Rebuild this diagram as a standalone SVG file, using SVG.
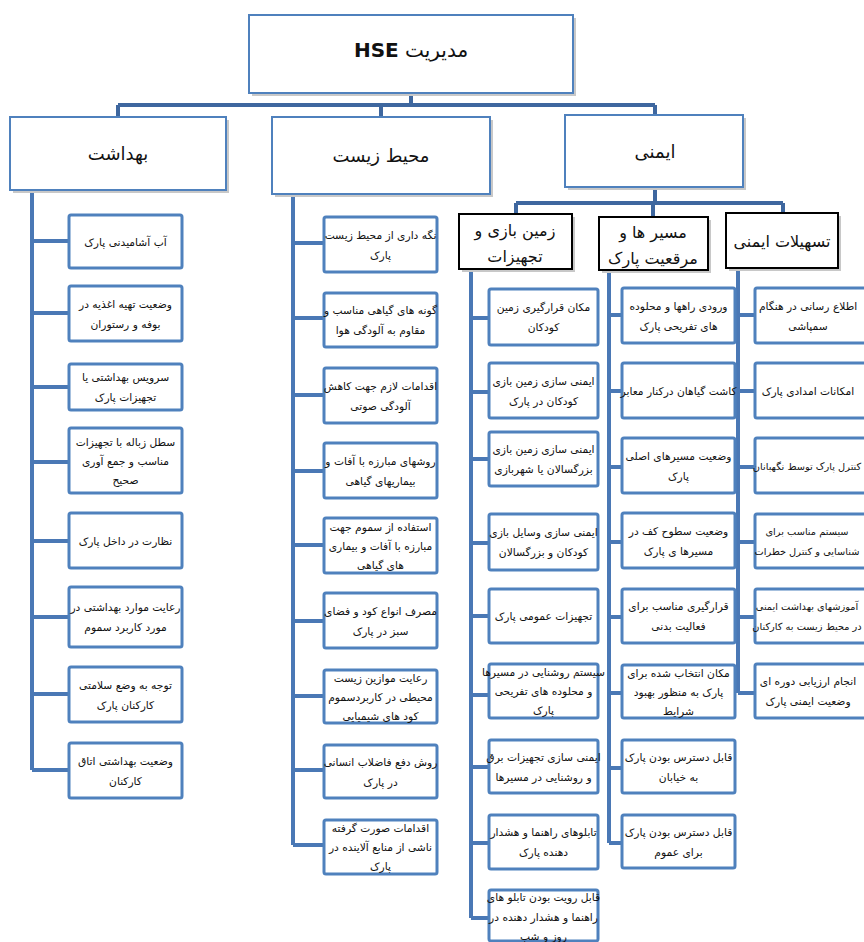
<svg xmlns="http://www.w3.org/2000/svg" width="864" height="942" viewBox="0 0 864 942">
<style>
.bg{fill:#ffffff}
.box{fill:#ffffff;stroke:#4f81bd;stroke-width:3}
.hbox{fill:#ffffff;stroke:#4f81bd;stroke-width:2}
.sbox{fill:#ffffff;stroke:#000000;stroke-width:2}
.shadow{fill:#c8c8c8}
.conn{fill:none;stroke:#4a78b5;stroke-width:4}
.top{fill:none;stroke:#3e679f;stroke-width:4}
text{font-family:"DejaVu Sans",sans-serif;fill:#111111;direction:rtl;text-anchor:middle}
.t{font-size:10.7px}
.ts{font-size:9.8px}
.h1{font-size:20px}
.h2{font-size:18px}
.h3{font-size:16px}
</style>
<rect class="bg" x="0" y="0" width="864" height="942"/>
<g id="connectors">
<path class="top" d="M411 93V105M118 105H655M118 105V117M381 105V117M655 105V115"/>
<path class="top" d="M655 187V203M516 203H783M516 203V214M653 203V217M783 203V213"/>
<path class="conn" d="M32 191V770M32 241H69M32 313H69M32 387H69M32 462H69M32 541H69M32 617H69M32 694H69M32 770H69"/>
<path class="conn" d="M293 195V845M293 243H324M293 318H324M293 395H324M293 471H324M293 545H324M293 621H324M293 696H324M293 770H324M293 845H324"/>
<path class="conn" d="M471 269V918M471 318H489M471 392H489M471 459H489M471 543H489M471 616H489M471 695H489M471 767H489M471 843H489M471 918H489"/>
<path class="conn" d="M609 270V843M609 315H622M609 391H622M609 467H622M609 542H622M609 617H622M609 693H622M609 768H622M609 843H622"/>
<path class="conn" d="M738 268V693M738 315H755M738 391H755M738 467H755M738 542H755M738 617H755M738 693H755"/>
</g>
<g id="root">
<rect class="shadow" x="252" y="18" width="324" height="78"/>
<rect class="hbox" x="249" y="15" width="324" height="78"/>
<text class="h1" x="411" y="57">مدیریت <tspan font-weight="bold">HSE</tspan></text>
</g>
<g id="behdasht">
<rect class="shadow" x="13" y="120" width="216" height="73"/>
<rect class="hbox" x="10" y="117" width="216" height="73"/>
<text class="h2" x="118" y="160">بهداشت</text>
</g>
<g id="mohit">
<rect class="shadow" x="275" y="120" width="218" height="77"/>
<rect class="hbox" x="272" y="117" width="218" height="77"/>
<text class="h2" x="381" y="162">محیط زیست</text>
</g>
<g id="imeni">
<rect class="shadow" x="568" y="118" width="178" height="72"/>
<rect class="hbox" x="565" y="115" width="178" height="72"/>
<text class="h2" x="655" y="158">ایمنی</text>
</g>
<g id="zamin">
<rect class="shadow" x="462" y="217" width="113" height="55"/>
<rect class="sbox" x="459" y="214" width="113" height="55"/>
<text class="h3" x="515" y="236">زمین بازی و</text>
<text class="h3" x="515" y="262">تجهیزات</text>
</g>
<g id="masir">
<rect class="shadow" x="602" y="220" width="109" height="53"/>
<rect class="sbox" x="599" y="217" width="109" height="53"/>
<text class="h3" x="653" y="238">مسیر ها و</text>
<text class="h3" x="653" y="264">مرقعیت پارک</text>
</g>
<g id="tashilat">
<rect class="shadow" x="729" y="216" width="112" height="55"/>
<rect class="sbox" x="726" y="213" width="112" height="55"/>
<text class="h3" x="782" y="247">تسهیلات ایمنی</text>
</g>
<g id="b1"><rect class="box" x="69" y="215" width="113" height="53" rx="2"/><text class="t" x="125.5" y="245.5">آب آشامیدنی پارک</text></g>
<g id="b2"><rect class="box" x="69" y="286" width="113" height="55" rx="2"/><text class="t" x="125.5" y="307.5">وضعیت تهیه اغذیه در</text><text class="t" x="125.5" y="327.5">بوفه و رستوران</text></g>
<g id="b3"><rect class="box" x="69" y="364" width="113" height="46" rx="2"/><text class="t" x="125.5" y="381">سرویس بهداشتی یا</text><text class="t" x="125.5" y="401">تجهیزات پارک</text></g>
<g id="b4"><rect class="box" x="69" y="428" width="113" height="65" rx="2"/><text class="t" x="125.5" y="445.5">سطل زباله با تجهیزات</text><text class="t" x="125.5" y="464.5">مناسب و جمع آوری</text><text class="t" x="125.5" y="483.5">صحیح</text></g>
<g id="b5"><rect class="box" x="69" y="513" width="113" height="55" rx="2"/><text class="t" x="125.5" y="544.5">نظارت در داخل پارک</text></g>
<g id="b6"><rect class="box" x="69" y="587" width="113" height="60" rx="2"/><text class="t" x="125.5" y="611">رعایت موارد بهداشتی در</text><text class="t" x="125.5" y="631">مورد کاربرد سموم</text></g>
<g id="b7"><rect class="box" x="69" y="667" width="113" height="55" rx="2"/><text class="t" x="125.5" y="688.5">توجه به وضع سلامتی</text><text class="t" x="125.5" y="708.5">کارکنان پارک</text></g>
<g id="b8"><rect class="box" x="69" y="743" width="113" height="55" rx="2"/><text class="t" x="125.5" y="764.5">وضعیت بهداشتی اتاق</text><text class="t" x="125.5" y="784.5">کارکنان</text></g>
<g id="m1"><rect class="box" x="324" y="217" width="113" height="55" rx="2"/><text class="t" x="380.5" y="238.5">نگه داری از محیط زیست</text><text class="t" x="380.5" y="258.5">پارک</text></g>
<g id="m2"><rect class="box" x="324" y="293" width="113" height="54" rx="2"/><text class="t" x="380.5" y="314">گونه های گیاهی مناسب و</text><text class="t" x="380.5" y="334">مقاوم به آلودگی هوا</text></g>
<g id="m3"><rect class="box" x="324" y="368" width="113" height="55" rx="2"/><text class="t" x="380.5" y="389.5">اقدامات لازم جهت کاهش</text><text class="t" x="380.5" y="409.5">آلودگی صوتی</text></g>
<g id="m4"><rect class="box" x="324" y="443" width="113" height="55" rx="2"/><text class="t" x="380.5" y="464.5">روشهای مبارزه با آفات و</text><text class="t" x="380.5" y="484.5">بیماریهای گیاهی</text></g>
<g id="m5"><rect class="box" x="324" y="518" width="113" height="55" rx="2"/><text class="t" x="380.5" y="530.5">استفاده از سموم جهت</text><text class="t" x="380.5" y="549.5">مبارزه با آفات و بیماری</text><text class="t" x="380.5" y="568.5">های گیاهی</text></g>
<g id="m6"><rect class="box" x="324" y="593" width="113" height="55" rx="2"/><text class="t" x="380.5" y="614.5">مصرف انواع کود و فضای</text><text class="t" x="380.5" y="634.5">سبز در پارک</text></g>
<g id="m7"><rect class="box" x="324" y="670" width="113" height="53" rx="2"/><text class="t" x="380.5" y="681.5">رعایت موازین زیست</text><text class="t" x="380.5" y="700.5">محیطی در کاربردسموم</text><text class="t" x="380.5" y="719.5">کود های شیمیایی</text></g>
<g id="m8"><rect class="box" x="324" y="745" width="113" height="53" rx="2"/><text class="t" x="380.5" y="765.5">روش دفع فاضلاب انسانی</text><text class="t" x="380.5" y="785.5">در پارک</text></g>
<g id="m9"><rect class="box" x="324" y="820" width="113" height="54" rx="2"/><text class="t" x="380.5" y="832">اقدامات صورت گرفته</text><text class="t" x="380.5" y="851">ناشی از منابع آلاینده در</text><text class="t" x="380.5" y="870">پارک</text></g>
<g id="z1"><rect class="box" x="489" y="289" width="109" height="56" rx="2"/><text class="t" x="543.5" y="311">مکان قرارگیری زمین</text><text class="t" x="543.5" y="331">کودکان</text></g>
<g id="z2"><rect class="box" x="489" y="363" width="109" height="55" rx="2"/><text class="t" x="543.5" y="384.5">ایمنی سازی زمین بازی</text><text class="t" x="543.5" y="404.5">کودکان در پارک</text></g>
<g id="z3"><rect class="box" x="489" y="432" width="109" height="54" rx="2"/><text class="t" x="543.5" y="453">ایمنی سازی زمین بازی</text><text class="t" x="543.5" y="473">بزرگسالان یا شهربازی</text></g>
<g id="z4"><rect class="box" x="489" y="514" width="109" height="56" rx="2"/><text class="t" x="543.5" y="536">ایمنی سازی وسایل بازی</text><text class="t" x="543.5" y="556">کودکان و بزرگسالان</text></g>
<g id="z5"><rect class="box" x="489" y="589" width="109" height="54" rx="2"/><text class="t" x="543.5" y="620">تجهیزات عمومی پارک</text></g>
<g id="z6"><rect class="box" x="489" y="664" width="109" height="54" rx="2"/><text class="t" x="543.5" y="676">سیستم روشنایی در مسیرها</text><text class="t" x="543.5" y="695">و محلوده های تفریحی</text><text class="t" x="543.5" y="714">پارک</text></g>
<g id="z7"><rect class="box" x="489" y="740" width="109" height="53" rx="2"/><text class="t" x="543.5" y="760.5">ایمنی سازی تجهیزات برق</text><text class="t" x="543.5" y="780.5">و روشنایی در مسیرها</text></g>
<g id="z8"><rect class="box" x="489" y="815" width="109" height="54" rx="2"/><text class="t" x="543.5" y="836">تابلوهای راهنما و هشدار</text><text class="t" x="543.5" y="856">دهنده پارک</text></g>
<g id="z9"><rect class="box" x="489" y="890" width="109" height="51" rx="2"/><text class="t" x="543.5" y="901">قابل رویت بودن تابلو های</text><text class="t" x="543.5" y="921">راهنما و هشدار دهنده در</text><text class="t" x="543.5" y="940">روز و شب</text></g>
<g id="r1"><rect class="box" x="622" y="288" width="113" height="55" rx="2"/><text class="t" x="678.5" y="309.5">ورودی راهها و محلوده</text><text class="t" x="678.5" y="329.5">های تفریحی پارک</text></g>
<g id="r2"><rect class="box" x="622" y="363" width="113" height="55" rx="2"/><text class="t" x="678.5" y="394.5">کاشت گیاهان درکنار معابر</text></g>
<g id="r3"><rect class="box" x="622" y="438" width="113" height="55" rx="2"/><text class="t" x="678.5" y="459.5">وضعیت مسیرهای اصلی</text><text class="t" x="678.5" y="479.5">پارک</text></g>
<g id="r4"><rect class="box" x="622" y="513" width="113" height="55" rx="2"/><text class="t" x="678.5" y="534.5">وضعیت سطوح کف در</text><text class="t" x="678.5" y="554.5">مسیرها ی پارک</text></g>
<g id="r5"><rect class="box" x="622" y="589" width="113" height="54" rx="2"/><text class="t" x="678.5" y="610">قرارگیری مناسب برای</text><text class="t" x="678.5" y="630">فعالیت بدنی</text></g>
<g id="r6"><rect class="box" x="622" y="665" width="113" height="53" rx="2"/><text class="t" x="678.5" y="676.5">مکان انتخاب شده برای</text><text class="t" x="678.5" y="695.5">پارک به منظور بهبود</text><text class="t" x="678.5" y="714.5">شرایط</text></g>
<g id="r7"><rect class="box" x="622" y="740" width="113" height="53" rx="2"/><text class="t" x="678.5" y="760.5">قابل دسترس بودن پارک</text><text class="t" x="678.5" y="780.5">به خیابان</text></g>
<g id="r8"><rect class="box" x="622" y="815" width="113" height="53" rx="2"/><text class="t" x="678.5" y="835.5">قابل دسترس بودن پارک</text><text class="t" x="678.5" y="855.5">برای عموم</text></g>
<g id="t1"><rect class="box" x="755" y="288" width="115" height="55" rx="2"/><text class="t" x="808" y="309.5">اطلاع رسانی در هنگام</text><text class="t" x="808" y="329.5">سمپاشی</text></g>
<g id="t2"><rect class="box" x="755" y="363" width="115" height="55" rx="2"/><text class="t" x="808" y="394.5">امکانات امدادی پارک</text></g>
<g id="t3"><rect class="box" x="755" y="438" width="115" height="55" rx="2"/><text class="ts" x="807" y="469.5">کنترل پارک توسط نگهبانان</text></g>
<g id="t4"><rect class="box" x="755" y="514" width="115" height="54" rx="2"/><text class="ts" x="807" y="535">سیستم مناسب برای</text><text class="ts" x="807" y="555">شناسایی و کنترل خطرات</text></g>
<g id="t5"><rect class="box" x="755" y="589" width="115" height="54" rx="2"/><text class="ts" x="807" y="610">آموزشهای بهداشت ایمنی</text><text class="ts" x="807" y="630">در محیط زیست به کارکنان</text></g>
<g id="t6"><rect class="box" x="755" y="664" width="115" height="54" rx="2"/><text class="t" x="808" y="685">انجام ارزیابی دوره ای</text><text class="t" x="808" y="705">وضعیت ایمنی پارک</text></g>
</svg>
